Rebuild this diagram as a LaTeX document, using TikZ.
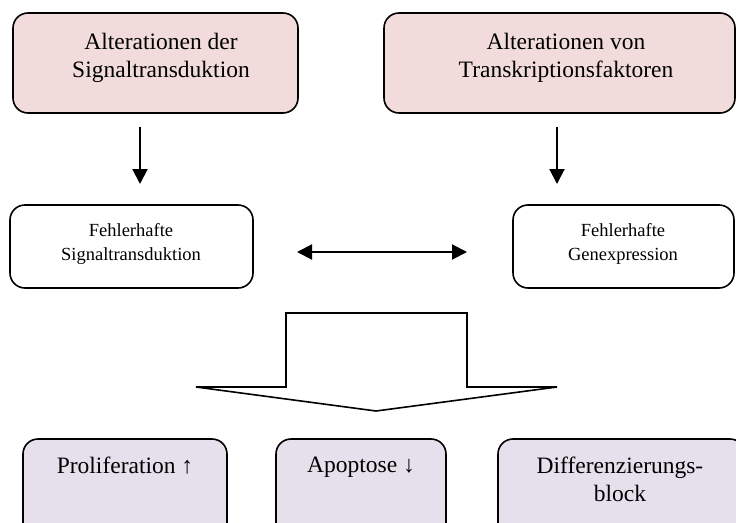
\documentclass[tikz,border=0pt]{standalone}
\usepackage{fontspec}
\setmainfont{Liberation Serif}
\usetikzlibrary{arrows.meta}
\definecolor{rosefill}{HTML}{F2DCDB}
\definecolor{lilacfill}{HTML}{E5E0EC}

\begin{document}
\begin{tikzpicture}[x=1pt,y=-1pt,
  box/.style={draw=black, line width=1.6pt, rounded corners=15pt, inner sep=0pt},
  cause/.style={box, fill=rosefill},
  defect/.style={box, fill=white},
  effect/.style={box, fill=lilacfill},
  bigtext/.style={font=\fontsize{23.5}{28}\selectfont, align=center, anchor=north, inner sep=0pt},
  smalltext/.style={font=\fontsize{18.5}{24}\selectfont, align=center, anchor=north, inner sep=0pt},
  tip/.style={Triangle[width=15pt,length=15pt]},
  arr/.style={line width=2pt, -{Triangle[width=15pt,length=15pt]}},
  dblarr/.style={line width=2pt, {Triangle[width=15pt,length=15pt]}-{Triangle[width=15pt,length=15pt]}},
  blockarrow/.style={draw=black, fill=white, line width=1.6pt, line join=miter},
]
\useasboundingbox (0,0) rectangle (736,522);
\clip (0,0) rectangle (736,522);

% causes
\node[cause, minimum width=285pt, minimum height=100pt] (causeA) at (155.5,63) {};
\node[cause, minimum width=351pt, minimum height=100pt] (causeB) at (559.5,63) {};
\node[bigtext] (causeAtxt) at (161,33) {Alterationen der\\Signaltransduktion};
\node[bigtext] (causeBtxt) at (566,33) {Alterationen von\\Transkriptionsfaktoren};

% defects
\node[defect, minimum width=243pt, minimum height=83pt] (defA) at (131.5,246.5) {};
\node[defect, minimum width=221pt, minimum height=83pt] (defB) at (623.5,246.5) {};
\node[smalltext] (defAtxt) at (131,223.5) {Fehlerhafte\\Signaltransduktion};
\node[smalltext] (defBtxt) at (623,223.5) {Fehlerhafte\\Genexpression};

% effects
\node[effect, minimum width=204pt, minimum height=106pt] (effA) at (125,492) {};
\node[effect, minimum width=170pt, minimum height=106pt] (effB) at (361,492) {};
\node[effect, minimum width=247pt, minimum height=106pt] (effC) at (621.5,492) {};
\node[bigtext] (effAtxt) at (125,457) {Proliferation ↑};
\node[bigtext] (effBtxt) at (361,457) {Apoptose ↓};
\node[bigtext] (effCtxt) at (620,457) {Differenzierungs-\\block};

% connectors
\coordinate (downAs) at (140,127);
\coordinate (downAe) at (140,184);
\coordinate (downBs) at (557,127);
\coordinate (downBe) at (557,184);
\coordinate (linkL) at (297,252);
\coordinate (linkR) at (467,252);
\draw[arr] (downAs) -- (downAe);
\draw[arr] (downBs) -- (downBe);
\draw[dblarr] (linkL) -- (linkR);

% wide block arrow pointing down
\draw[blockarrow] (286,313) -- (467,313) -- (467,387) -- (557,387)
  -- (376,411) -- (196,387) -- (286,387) -- cycle;
\end{tikzpicture}
\end{document}
